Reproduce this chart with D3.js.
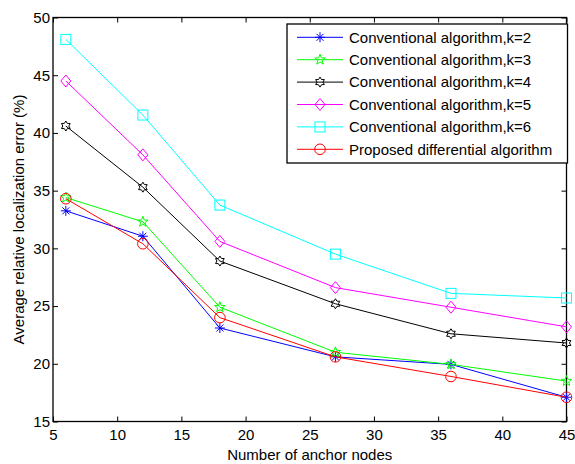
<!DOCTYPE html>
<html><head><meta charset="utf-8">
<script src="https://cdn.jsdelivr.net/npm/d3@7"></script>
<style>body{margin:0;background:#fff}svg{display:block}text{font-family:"Liberation Sans",Arial,sans-serif;fill:#000}</style>
</head><body><svg id="c" width="575" height="464"></svg>
<script>
const xNodes = [6, 12, 18, 27, 36, 45];
const k2 = [33.25, 31.05, 23.1, 20.6, 19.95, 17.1];
const k3 = [34.4, 32.3, 24.9, 21.0, 19.95, 18.5];
const k4 = [40.6, 35.3, 28.9, 25.2, 22.6, 21.8];
const k5 = [44.5, 38.1, 30.6, 26.6, 24.9, 23.2];
const k6 = [48.1, 41.55, 33.75, 29.5, 26.1, 25.7];
const proposed = [34.3, 30.4, 24.0, 20.6, 18.9, 17.1];
const seriesNames = ["Conventional algorithm,k=2","Conventional algorithm,k=3","Conventional algorithm,k=4","Conventional algorithm,k=5","Conventional algorithm,k=6","Proposed differential algorithm"];
const xTicks = [5,10,15,20,25,30,35,40,45];
const yTicks = [15,20,25,30,35,40,45,50];

const colors = ["#0000ff","#00ff00","#000000","#ff00ff","#00ffff","#ff0000"];
const markers = ["asterisk","pentagram","hexagram","diamond","square","circle"];
const data = [k2,k3,k4,k5,k6,proposed];

const svg = d3.select("#c");
const L=53, R=566.5, T=17.5, B=421.5;
const x = d3.scaleLinear().domain([5,45]).range([L,R]);
const y = d3.scaleLinear().domain([15,50]).range([B,T]);
const FS = 15;

// axes
const tl = 5;
svg.append("g").attr("transform",`translate(0,${B})`)
  .call(d3.axisBottom(x).tickValues(xTicks).tickSize(-tl).tickPadding(8).tickFormat(d3.format("d")))
  .call(g=>{g.select(".domain").remove();g.selectAll("text").attr("font-size",FS);});
svg.append("g").attr("transform",`translate(0,${T})`)
  .call(d3.axisTop(x).tickValues(xTicks).tickSize(-tl).tickFormat(""))
  .call(g=>g.select(".domain").remove());
svg.append("g").attr("transform",`translate(${L},0)`)
  .call(d3.axisLeft(y).tickValues(yTicks).tickSize(-tl).tickPadding(3).tickFormat(d3.format("d")))
  .call(g=>{g.select(".domain").remove();g.selectAll("text").attr("font-size",FS);});
svg.append("g").attr("transform",`translate(${R},0)`)
  .call(d3.axisRight(y).tickValues(yTicks).tickSize(-tl).tickFormat(""))
  .call(g=>g.select(".domain").remove());
svg.selectAll(".tick line").attr("stroke","#000");
svg.append("rect").attr("x",L).attr("y",T).attr("width",R-L).attr("height",B-T)
  .attr("fill","none").attr("stroke","#000").attr("stroke-width",1.3);

// marker drawing
function starPath(n, ro, ri){
  let p=[];
  for(let i=0;i<2*n;i++){
    const r = i%2===0?ro:ri;
    const a = -Math.PI/2 + i*Math.PI/n;
    p.push([r*Math.cos(a), r*Math.sin(a)]);
  }
  return "M"+p.map(q=>q[0].toFixed(2)+","+q[1].toFixed(2)).join("L")+"Z";
}
function drawMarker(g, type, cx, cy, col){
  const m = g.append("g").attr("transform",`translate(${cx},${cy})`);
  if(type==="asterisk"){
    const s=5;
    [[-s,0,s,0],[0,-s,0,s],[-s*0.7,-s*0.7,s*0.7,s*0.7],[-s*0.7,s*0.7,s*0.7,-s*0.7]].forEach(l=>
      m.append("line").attr("x1",l[0]).attr("y1",l[1]).attr("x2",l[2]).attr("y2",l[3]).attr("stroke",col).attr("stroke-width",1));
  } else if(type==="pentagram"){
    m.append("path").attr("d",starPath(5,5.5,2.3)).attr("fill","none").attr("stroke",col);
  } else if(type==="hexagram"){
    m.append("path").attr("d",starPath(6,5,3)).attr("fill","none").attr("stroke",col);
  } else if(type==="diamond"){
    m.append("path").attr("d","M0,-6L5,0L0,6L-5,0Z").attr("fill","none").attr("stroke",col);
  } else if(type==="square"){
    m.append("rect").attr("x",-5).attr("y",-5).attr("width",10).attr("height",10).attr("fill","none").attr("stroke",col);
  } else if(type==="circle"){
    m.append("circle").attr("r",5.3).attr("fill","none").attr("stroke",col);
  }
}

const line = d3.line().x((d,i)=>x(xNodes[i])).y(d=>y(d));
const plot = svg.append("g");
data.forEach((s,si)=>{
  plot.append("path").datum(s).attr("d",line).attr("fill","none").attr("stroke",colors[si]).attr("stroke-width",1);
  s.forEach((v,i)=>drawMarker(plot, markers[si], x(xNodes[i]), y(v), colors[si]));
});

// legend
const lg = svg.append("g");
lg.append("rect").attr("x",287).attr("y",24).attr("width",280.5).attr("height",139)
  .attr("fill","#fff").attr("stroke","#000").attr("stroke-width",1.3);
seriesNames.forEach((n,i)=>{
  const yy = 37.3 + i*22.4;
  lg.append("line").attr("x1",297).attr("x2",343).attr("y1",yy).attr("y2",yy).attr("stroke",colors[i]);
  drawMarker(lg, markers[i], 320, yy, colors[i]);
  lg.append("text").attr("x",349).attr("y",yy+5.2).attr("font-size",FS).text(n);
});

// labels
svg.append("text").attr("x",(L+R)/2).attr("y",460).attr("text-anchor","middle").attr("font-size",FS).text("Number of anchor nodes");
svg.append("text").attr("transform",`translate(24,${(T+B)/2}) rotate(-90)`).attr("text-anchor","middle").attr("font-size",FS).text("Average relative localization error (%)");
</script></body></html>
